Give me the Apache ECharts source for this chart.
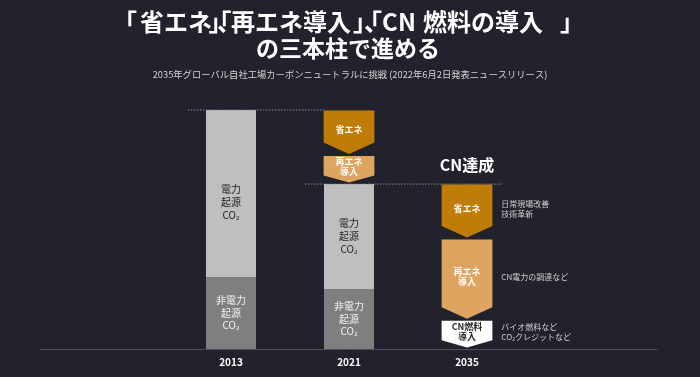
<!DOCTYPE html>
<html><head><meta charset="utf-8">
<script src="https://cdn.jsdelivr.net/npm/echarts@6/dist/echarts.min.js"></script>
<style>html,body{margin:0;padding:0;background:#21222c}#c{width:700px;height:377px}</style>
</head><body><div id="c"></div>
<script>
// ---- data (2013 total emissions = 100) ----
const categories = ['2013', '2021', '2035'];
const nonElectricCO2 = [30, 25, null];
const electricCO2 = [70, 44, null];
const nonElectricLabel = '非電力\n起源\nCO₂';
const electricLabel = '電力\n起源\nCO₂';

// reduction arrows
const reductionCat  = [1, 1, 2, 2, 2];
const reductionFrom = [100, 81, 69, 46, 12];
const reductionTo   = [81, 69, 46, 12, 0];
const reductionName = ['省エネ', '再エネ\n導入', '省エネ', '再エネ\n導入', 'CN燃料\n導入'];
const reductionKind = ['energy', 'renew', 'energy', 'renew', 'fuel'];
const reductionNote = ['', '', '日常現場改善\n技術革新', 'CN電力の調達など', 'バイオ燃料など\nCO₂クレジットなど'];

// reference levels (dotted lines)
const levelFromCat = [0, 1];
const levelToCat   = [1, 2];
const levelValue   = [100, 69];
const milestoneLabel = 'CN達成';

const titleLine1Parts = ['「', '省エネ', '」', '、', '「', '再エネ導入', '」', '、', '「', 'C', 'N', '燃料の導入', '」'];
const titleLine2 = 'の三本柱で進める';
const subtitle = '2035年グローバル自社工場カーボンニュートラルに挑戦 (2022年6月2日発表ニュースリリース)';

// ---- styles ----
const FONT = '"Noto Sans CJK JP", "Noto Sans", sans-serif';
const TITLE_FONT = 'bold 24px ' + FONT;
const kindFill = { energy: '#bf7c07', renew: '#dea560', fuel: '#ffffff' };
const kindText = { energy: '#ffffff', renew: '#ffffff', fuel: '#2a2a2a' };

// ink-left x of each title part (tight, palt-like kerning of the reference)
const titleInkLeft = [128, 140, 208.5, 217, 222.5, 231, 353, 364, 373, 383, 400, 423, 560];

const chart = echarts.init(document.getElementById('c'), null, { renderer: 'canvas' });

const mctx = document.createElement('canvas').getContext('2d');
mctx.font = TITLE_FONT;
const graphic = titleLine1Parts.map((s, i) => {
  const m = mctx.measureText(s);
  const abl = (m.actualBoundingBoxLeft !== undefined) ? m.actualBoundingBoxLeft : 0;
  return {
    type: 'text', x: titleInkLeft[i] + abl, y: 22, silent: true,
    style: { text: s, fill: '#ffffff', font: TITLE_FONT, align: 'left', verticalAlign: 'middle' }
  };
});
graphic.push({
  type: 'text', x: 348, y: 48, silent: true,
  style: { text: titleLine2, fill: '#ffffff', font: 'bold 23px ' + FONT, align: 'center', verticalAlign: 'middle' }
});
graphic.push({
  type: 'text', x: 350, y: 74, silent: true,
  style: { text: subtitle, fill: '#d4d4d4', font: '9.3px ' + FONT, align: 'center', verticalAlign: 'middle' }
});

const dashStartOff = [-0.365, -0.373];
const dashEndOff = [-0.212, 0.305];

const option = {
  backgroundColor: '#21222c',
  animation: false,
  graphic: graphic,
  grid: [
    { left: 172, right: 174, top: 110, bottom: 28 },
    { left: 40, right: 43, top: 110, bottom: 28 }
  ],
  xAxis: [
    {
      type: 'category', gridIndex: 0, data: categories,
      axisLine: { show: false }, axisTick: { show: false },
      axisLabel: { color: '#ffffff', fontSize: 10, fontWeight: 'bold', fontFamily: FONT, margin: 8 }
    },
    {
      type: 'category', gridIndex: 1, data: [''],
      axisLine: { show: true, lineStyle: { color: '#4f505a', width: 1 } },
      axisTick: { show: false }, axisLabel: { show: false }
    }
  ],
  yAxis: [
    { type: 'value', gridIndex: 0, min: 0, max: 100, show: false },
    { type: 'value', gridIndex: 1, min: 0, max: 100, show: false }
  ],
  series: [
    {
      type: 'bar', stack: 'co2', xAxisIndex: 0, yAxisIndex: 0, barWidth: 50,
      data: nonElectricCO2,
      itemStyle: { color: '#7f7f7f' },
      label: {
        show: true, position: 'inside', formatter: nonElectricLabel,
        color: '#f2f2f2', fontSize: 10, lineHeight: 12.5, fontFamily: FONT
      }
    },
    {
      type: 'bar', stack: 'co2', xAxisIndex: 0, yAxisIndex: 0, barWidth: 50,
      data: electricCO2.map((v, i) => i === 0 ? { value: v, label: { offset: [0, 9] } } : v),
      itemStyle: { color: '#bfbfbf' },
      label: {
        show: true, position: 'inside', formatter: electricLabel,
        color: '#1e1e1e', fontSize: 10, lineHeight: 13, fontFamily: FONT
      }
    },
    {
      type: 'custom', xAxisIndex: 0, yAxisIndex: 0,
      data: reductionCat.map((c, i) => [c, reductionFrom[i], reductionTo[i]]),
      renderItem: function (params, api) {
        const i = params.dataIndex;
        const cat = api.value(0);
        const pTop = api.coord([cat, api.value(1)]);
        const pBot = api.coord([cat, api.value(2)]);
        const band = api.size([1, 0])[0];
        const w = band * 0.43;
        const xc = pTop[0];
        const xl = xc - w / 2, xr = xc + w / 2;
        const y0 = pTop[1] + 0.5;
        const tip = pBot[1] - 1.5;
        const range = tip - y0;
        const tipH = Math.min(11.5, range * 0.27);
        const sh = tip - tipH;
        const kind = reductionKind[i];
        const children = [
          {
            type: 'polygon',
            shape: { points: [[xl, y0], [xr, y0], [xr, sh], [xc, tip], [xl, sh]] },
            style: { fill: kindFill[kind] }
          },
          {
            type: 'text', x: xc, y: (y0 + tip) / 2 - 2.5,
            style: {
              text: reductionName[i], fill: kindText[kind],
              font: 'bold 9px ' + FONT, lineHeight: 10.5,
              align: 'center', verticalAlign: 'middle'
            }
          }
        ];
        if (reductionNote[i]) {
          children.push({
            type: 'text', x: xr + 9, y: (y0 + tip) / 2 - 2,
            style: {
              text: reductionNote[i], fill: '#d0d0d0',
              font: '8px ' + FONT, lineHeight: 10,
              align: 'left', verticalAlign: 'middle'
            }
          });
        }
        return { type: 'group', children: children };
      },
      z: 3
    },
    {
      type: 'custom', xAxisIndex: 0, yAxisIndex: 0,
      data: levelValue.map((v, i) => [levelFromCat[i], levelToCat[i], v]),
      renderItem: function (params, api) {
        const i = params.dataIndex;
        const band = api.size([1, 0])[0];
        const a = api.coord([api.value(0), api.value(2)]);
        const b = api.coord([api.value(1), api.value(2)]);
        const children = [{
          type: 'line',
          shape: { x1: a[0] + dashStartOff[i] * band, y1: a[1], x2: b[0] + dashEndOff[i] * band, y2: b[1] },
          style: { stroke: '#8a8b93', lineWidth: 1, lineDash: [1.5, 1.5] }
        }];
        if (i === levelValue.length - 1) {
          children.push({
            type: 'text', x: b[0], y: b[1] - 19,
            style: {
              text: milestoneLabel, fill: '#ffffff', font: 'bold 16px ' + FONT,
              align: 'center', verticalAlign: 'middle'
            }
          });
        }
        return { type: 'group', children: children };
      },
      z: 4
    }
  ]
};
chart.setOption(option);
</script>
</body></html>
